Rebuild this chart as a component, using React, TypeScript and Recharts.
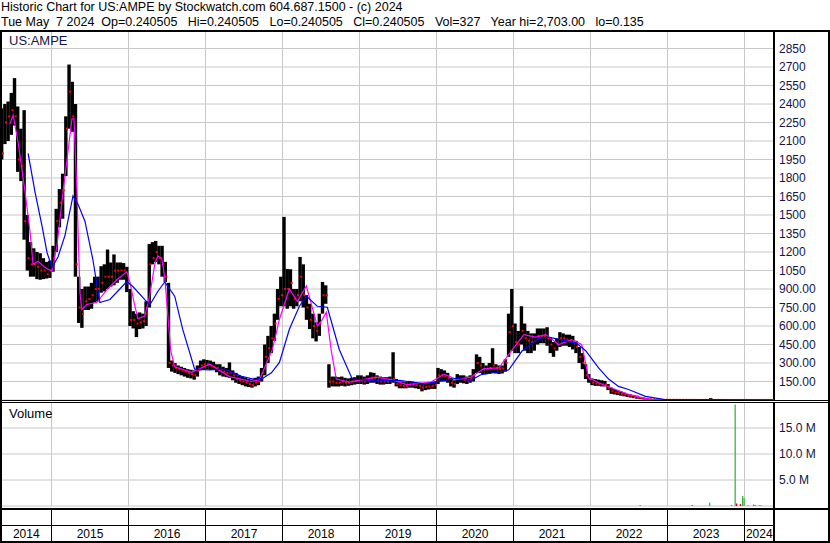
import React from 'react';
import { ComposedChart, LineChart, Bar, Line, Scatter, XAxis, YAxis, CartesianGrid, Cell } from 'recharts';

const FONT = '"Liberation Sans", Arial, sans-serif';
const NAVY = '#14144a';
const GRID = '#c8c8c8';

// half-month buckets starting early May 2014
const START = 2014 + 4 / 12;
const X_MIN = 2014.344;
const X_MAX = 2024.383;

const yearStarts = [2015, 2016, 2017, 2018, 2019, 2020, 2021, 2022, 2023, 2024];
const priceTicks = [150, 300, 450, 600, 750, 900, 1050, 1200, 1350, 1500, 1650, 1800, 1950, 2100, 2250, 2400, 2550, 2700, 2850];
const volTicks = [5000000, 10000000, 15000000];

// half-monthly high / low / close
const priceHigh = [
  2365, 2400, 2420, 2490, 2610, 2380, 2200, 2350, 1500, 1280, 1230, 1200, 1190, 1150, 1120, 1130,
  1250, 1550, 1710, 1835, 2300, 2720, 2580, 2400, 1000, 900, 920, 920, 950, 1000, 1000, 1085, 1100, 1220, 1115, 1180, 1115, 1115, 1110, 1080,
  900, 720, 700, 710, 700, 800, 1265, 1280, 1290, 1250, 1250, 1120, 950, 320, 300, 280, 270, 260, 250, 245, 240, 280, 320, 330,
  325, 320, 310, 290, 290, 270, 260, 305, 240, 220, 200, 190, 180, 170, 165, 180, 190, 260, 450, 520, 600, 700, 900, 1000,
  1485, 1063, 1060, 900, 900, 1160, 1100, 850, 780, 700, 630, 700, 957, 930, 290, 190, 190, 185, 190, 180, 175, 180, 185, 200,
  200, 190, 200, 225, 220, 200, 190, 185, 185, 190, 387, 170, 150, 150, 145, 155, 150, 145, 140, 135, 135, 140, 145, 150,
  260, 250, 240, 220, 180, 160, 210, 200, 200, 190, 200, 250, 370, 350, 300, 280, 300, 420, 290, 280, 280, 330, 700, 900,
  620, 560, 760, 620, 560, 540, 540, 580, 580, 580, 590, 510, 470, 500, 550, 540, 530, 530, 520, 480, 430, 380, 290, 210,
  175, 170, 165, 160, 155, 130, 100, 90, 80, 70, 60, 50, 45, 40, 35, 25, 20, 15, 10, 8, 6, 5, 4, 3,
  2.5, 2, 2, 1.8, 1.5, 1.5, 1.2, 1.2, 1, 1, 1, 1, 1, 15, 0.8, 0.8, 0.7, 0.7, 0.6, 0.6, 0.5, 0.5, 0.5, 0.4, 0.4, 0.4, 0.35, 0.35, 0.3, 0.3, 0.3, 0.3, 0.25,
];
const priceLow = [
  1950, 2075, 2100, 2150, 2225, 1850, 1775, 1300, 1050, 1000, 1000, 980, 975, 980, 985, 990,
  1040, 1200, 1400, 1470, 1815, 2200, 2175, 1000, 625, 585, 730, 730, 740, 790, 800, 870, 880, 900, 920, 930, 950, 975, 975, 875,
  600, 580, 510, 575, 580, 600, 750, 1100, 1120, 1100, 1000, 957, 260, 230, 220, 210, 200, 190, 180, 175, 165, 190, 240, 250,
  250, 245, 245, 225, 200, 190, 185, 180, 160, 140, 130, 120, 110, 105, 100, 110, 120, 150, 200, 300, 380, 480, 650, 760,
  760, 740, 760, 740, 760, 800, 750, 650, 575, 500, 475, 520, 700, 780, 100, 110, 110, 110, 115, 110, 115, 120, 125, 130,
  130, 125, 130, 140, 140, 130, 125, 125, 130, 130, 140, 110, 95, 95, 95, 100, 100, 95, 90, 70, 80, 85, 90, 90,
  130, 150, 150, 140, 110, 100, 130, 140, 135, 130, 140, 150, 220, 220, 210, 210, 215, 220, 215, 210, 215, 230, 350, 400,
  380, 380, 450, 400, 380, 380, 400, 450, 460, 460, 440, 380, 350, 400, 430, 440, 440, 430, 410, 380, 300, 250, 170, 140,
  120, 115, 115, 110, 110, 80, 50, 45, 40, 35, 30, 25, 20, 15, 10, 8, 5, 4, 3, 2, 2, 1, 1, 1,
  1.2, 1, 1, 0.9, 0.8, 0.8, 0.7, 0.7, 0.6, 0.6, 0.6, 0.5, 0.5, 0.5, 0.4, 0.4, 0.4, 0.35, 0.3, 0.3, 0.3, 0.25, 0.25, 0.2, 0.2, 0.2, 0.2, 0.18, 0.18, 0.15, 0.15, 0.14, 0.14,
];
const priceClose = [
  2000, 2250, 2300, 2350, 2300, 1950, 1900, 1450, 1150, 1100, 1100, 1080, 1050, 1050, 1020, 1050,
  1150, 1450, 1600, 1700, 2200, 2500, 2300, 1100, 750, 700, 800, 820, 850, 900, 900, 950, 1000, 1000, 1000, 1050, 1050, 1050, 1050, 950,
  650, 650, 620, 630, 640, 700, 1100, 1150, 1200, 1150, 1100, 1000, 300, 280, 260, 250, 240, 230, 220, 210, 200, 240, 280, 290,
  290, 280, 270, 260, 240, 230, 220, 220, 200, 170, 160, 150, 140, 130, 120, 140, 150, 220, 350, 420, 500, 620, 820, 850,
  900, 900, 950, 820, 850, 1000, 850, 750, 650, 600, 560, 620, 850, 850, 150, 150, 140, 140, 150, 140, 140, 150, 155, 160,
  160, 150, 160, 180, 180, 160, 150, 150, 150, 160, 170, 130, 120, 115, 115, 125, 125, 120, 115, 100, 105, 110, 115, 120,
  200, 200, 190, 180, 140, 130, 170, 170, 165, 160, 170, 200, 300, 280, 250, 250, 260, 280, 260, 250, 255, 300, 550, 600,
  470, 450, 560, 500, 480, 470, 480, 520, 520, 520, 500, 450, 420, 450, 500, 500, 490, 480, 470, 430, 350, 300, 200, 170,
  140, 135, 130, 125, 125, 100, 70, 60, 55, 50, 45, 35, 30, 25, 20, 15, 10, 8, 6, 5, 4, 3, 2, 2,
  1.8, 1.5, 1.5, 1.2, 1.2, 1, 1, 0.9, 0.8, 0.8, 0.8, 0.7, 0.7, 0.8, 0.6, 0.6, 0.5, 0.5, 0.45, 0.4, 0.4, 0.35, 0.35, 0.3, 0.3, 0.3, 0.28, 0.26, 0.25, 0.25, 0.24, 0.24, 0.24,
];

// short moving average (magenta)
const fastDates = [
  2014.462, 2014.501, 2014.566, 2014.657, 2014.722, 2014.760, 2014.825, 2014.903, 2014.955, 2015.007,
  2015.071, 2015.149, 2015.201, 2015.266, 2015.292, 2015.330, 2015.369, 2015.395, 2015.460, 2015.589,
  2015.719, 2015.848, 2015.978, 2016.017, 2016.069, 2016.121, 2016.211, 2016.276, 2016.341, 2016.380,
  2016.431, 2016.470, 2016.509, 2016.548, 2016.600, 2016.820, 2017.053, 2017.312, 2017.597, 2017.701,
  2017.869, 2017.960, 2018.089, 2018.193, 2018.310, 2018.452, 2018.504, 2018.569, 2018.633, 2018.698,
  2018.867, 2019.216, 2019.411, 2019.618, 2019.929, 2020.097, 2020.266, 2020.447, 2020.615, 2020.810,
  2020.939, 2021.133, 2021.289, 2021.418, 2021.587, 2021.755, 2021.885, 2021.975, 2022.105, 2022.325,
  2022.494, 2022.688, 2022.817, 2024.359,
];
const fastValues = [
  2240, 2310, 2090, 1685, 1360, 1100, 1125, 1080, 1060, 1045,
  1250, 1685, 1950, 2280, 2280, 1685, 870, 735, 775, 790,
  895, 975, 1040, 960, 800, 660, 680, 850, 1100, 1168,
  1150, 1000, 700, 400, 270, 225, 290, 190, 150, 165,
  410, 655, 900, 800, 924, 600, 640, 710, 400, 170,
  145, 185, 165, 125, 145, 210, 165, 185, 255, 260,
  370, 530, 510, 530, 450, 490, 450, 180, 140, 85,
  45, 15, 3, 0.3,
];

// long moving average (blue)
const slowDates = [
  2014.696, 2014.786, 2014.877, 2014.942, 2015.007, 2015.084, 2015.175, 2015.279, 2015.343, 2015.434,
  2015.538, 2015.628, 2015.758, 2015.887, 2015.978, 2016.056, 2016.276, 2016.380, 2016.470, 2016.600,
  2016.703, 2016.859, 2017.053, 2017.247, 2017.468, 2017.636, 2017.740, 2017.856, 2017.960, 2018.089,
  2018.219, 2018.310, 2018.452, 2018.582, 2018.737, 2018.905, 2019.255, 2019.514, 2019.838, 2020.058,
  2020.266, 2020.447, 2020.576, 2020.874, 2020.939, 2021.108, 2021.328, 2021.457, 2021.678, 2021.820,
  2021.937, 2022.105, 2022.235, 2022.364, 2022.494, 2022.714, 2022.947, 2024.359,
];
const slowValues = [
  2000, 1685, 1410, 1195, 1075, 1160, 1335, 1655, 1590, 1450,
  1135, 790, 815, 900, 960, 920, 770, 880, 957, 842,
  574, 250, 245, 250, 192, 167, 175, 220, 305, 574,
  760, 842, 760, 752, 410, 170, 155, 160, 130, 155,
  175, 160, 205, 233, 245, 395, 500, 510, 480, 460,
  400, 260, 170, 110, 85, 30, 5, 0.5,
];

// daily volume, only the visible bars
const volDates = [2022.645, 2023.322, 2023.549, 2023.832, 2023.880, 2023.899, 2023.948, 2023.977, 2023.996, 2024.048, 2024.119, 2024.139, 2024.190, 2024.216];
const volValues = [200000, 150000, 650000, 200000, 19500000, 500000, 400000, 1900000, 1500000, 150000, 300000, 150000, 100000, 100000];
const volUp = [true, false, true, true, true, false, false, true, true, true, true, false, false, false];

const priceRows = priceHigh.map((h, i) => ({
  t: START + (i + 0.5) / 24,
  lo: priceLow[i],
  span: h - priceLow[i],
  close: priceClose[i],
}));
const fastRows = fastDates.map((t, i) => ({ t, v: fastValues[i] }));
const slowRows = slowDates.map((t, i) => ({ t, v: slowValues[i] }));
const volRows = volDates.map((t, i) => ({ t, v: volValues[i], up: volUp[i] }));

const bounds = [X_MIN, ...yearStarts, X_MAX];
const labelPos = bounds.slice(0, -1).map((b, i) => (b + bounds[i + 1]) / 2);

const PriceTick = (props: any) => {
  const { x, y, payload } = props;
  const v = payload.value;
  return (
    <text x={x} y={y} dy={4} fill={NAVY} fontSize={12} fontFamily={FONT} textAnchor="start">
      {v >= 1000 ? String(v) : v.toFixed(2)}
    </text>
  );
};

const VolTick = (props: any) => {
  const { x, y, payload } = props;
  return (
    <text x={x} y={y} dy={4} fill={NAVY} fontSize={12} fontFamily={FONT} textAnchor="start">
      {(payload.value / 1000000).toFixed(1) + ' M'}
    </text>
  );
};

// volume chart is 141px tall: dividers run 107..139, labels sit on 136
const YearTick = (props: any) => {
  const { x, payload } = props;
  const v = payload.value;
  if (yearStarts.includes(v)) {
    return <line x1={x} x2={x} y1={107} y2={139} stroke="#000" strokeWidth={1} />;
  }
  return (
    <text x={x} y={136} fill="#000" fontSize={12} fontFamily={FONT} textAnchor="middle">
      {Math.floor(v)}
    </text>
  );
};

// hi-lo bar, widened so neighbouring half-months touch
const RangeShape = (props: any) => {
  const { x, y, width, height, fill } = props;
  if (x == null || y == null) return null;
  const cx = x + width / 2;
  return <rect x={cx - 1.7} y={y} width={3.4} height={Math.max(height, 0.8)} fill={fill} />;
};

const CloseTick = (props: any) => {
  const { cx, cy } = props;
  if (cx == null || cy == null) return null;
  return <rect x={cx} y={cy - 1} width={2} height={2} fill="#ff0000" />;
};

const line = (style: React.CSSProperties) => (
  <div style={{ position: 'absolute', background: '#000', ...style }} />
);

export default function App() {
  return (
    <div style={{ position: 'fixed', left: 0, top: 0, width: 830, height: 543, background: '#fff', overflow: 'hidden', fontFamily: FONT }}>
      <div style={{ position: 'absolute', left: 1, top: 0, fontSize: 12.5, lineHeight: '15px', whiteSpace: 'pre', color: '#000' }}>
        {'Historic Chart for US:AMPE by Stockwatch.com 604.687.1500 - (c) 2024'}
      </div>
      <div style={{ position: 'absolute', left: 1, top: 15, fontSize: 12.5, lineHeight: '15px', whiteSpace: 'pre', color: '#000' }}>
        {'Tue May  7 2024  Op=0.240505   Hi=0.240505   Lo=0.240505   Cl=0.240505   Vol=327   Year hi=2,703.00   lo=0.135'}
      </div>

      {/* price bars + close marks */}
      <div style={{ position: 'absolute', left: 0, top: 30 }}>
        <ComposedChart width={830} height={370} data={priceRows} margin={{ top: 0, right: 0, bottom: 0, left: 1 }}>
          <CartesianGrid stroke={GRID} strokeWidth={1} />
          <XAxis dataKey="t" type="number" domain={[X_MIN, X_MAX]} ticks={yearStarts} allowDataOverflow hide />
          <YAxis
            orientation="right"
            width={56}
            type="number"
            domain={[0, 3000]}
            ticks={priceTicks}
            interval={0}
            allowDataOverflow
            axisLine={{ stroke: '#000', strokeWidth: 2 }}
            tickLine={false}
            tickSize={0}
            tickMargin={5}
            tick={<PriceTick />}
          />
          <Bar dataKey="lo" stackId="p" fill="none" barSize={3} isAnimationActive={false} />
          <Bar dataKey="span" stackId="p" fill="#000" barSize={3} shape={<RangeShape />} isAnimationActive={false} />
          <Scatter dataKey="close" shape={<CloseTick />} isAnimationActive={false} />
        </ComposedChart>
      </div>

      {/* moving averages on the same scales */}
      <div style={{ position: 'absolute', left: 0, top: 30 }}>
        <LineChart width={830} height={370} margin={{ top: 0, right: 56, bottom: 0, left: 1 }}>
          <XAxis dataKey="t" type="number" domain={[X_MIN, X_MAX]} allowDataOverflow hide />
          <YAxis type="number" domain={[0, 3000]} allowDataOverflow hide />
          <Line data={fastRows} dataKey="v" type="linear" stroke="#ff00ff" strokeWidth={1.2} dot={false} isAnimationActive={false} />
          <Line data={slowRows} dataKey="v" type="linear" stroke="#0000ff" strokeWidth={1.2} dot={false} isAnimationActive={false} />
        </LineChart>
      </div>
      <div style={{ position: 'absolute', left: 9, top: 33, fontSize: 13, lineHeight: '15px', color: NAVY }}>US:AMPE</div>

      <div style={{ position: 'absolute', left: 0, top: 402 }}>
        <ComposedChart width={830} height={141} data={volRows} margin={{ top: 0, right: 0, bottom: 0, left: 1 }}>
          <CartesianGrid stroke={GRID} strokeWidth={1} xAxisId="g" />
          <XAxis xAxisId="g" dataKey="t" type="number" domain={[X_MIN, X_MAX]} ticks={yearStarts} allowDataOverflow hide />
          <XAxis
            xAxisId="lbl"
            dataKey="t"
            type="number"
            domain={[X_MIN, X_MAX]}
            ticks={[...yearStarts, ...labelPos]}
            interval={0}
            allowDataOverflow
            height={37}
            axisLine={false}
            tickLine={false}
            tickSize={0}
            tickMargin={0}
            tick={<YearTick />}
          />
          <YAxis
            orientation="right"
            width={56}
            type="number"
            domain={[0, 20000000]}
            ticks={volTicks}
            interval={0}
            allowDataOverflow
            axisLine={{ stroke: '#000', strokeWidth: 2 }}
            tickLine={false}
            tickSize={0}
            tickMargin={5}
            tick={<VolTick />}
          />
          <Bar xAxisId="g" dataKey="v" barSize={2} isAnimationActive={false}>
            {volRows.map((r, i) => (
              <Cell key={i} fill={r.up ? '#3cb83c' : '#e00000'} />
            ))}
          </Bar>
        </ComposedChart>
      </div>
      <div style={{ position: 'absolute', left: 9, top: 406, fontSize: 13, lineHeight: '15px', color: '#000' }}>Volume</div>

      {line({ left: 0, top: 30, width: 830, height: 2 })}
      {line({ left: 0, top: 30, width: 2, height: 513 })}
      {line({ left: 828, top: 30, width: 2, height: 513 })}
      {line({ left: 0, top: 400, width: 830, height: 1 })}
      {line({ left: 0, top: 402, width: 830, height: 1 })}
      {line({ left: 0, top: 508, width: 830, height: 2 })}
      {line({ left: 0, top: 525, width: 775, height: 1 })}
      {line({ left: 0, top: 541, width: 830, height: 2 })}
      {line({ left: 773, top: 506, width: 2, height: 37 })}
    </div>
  );
}
